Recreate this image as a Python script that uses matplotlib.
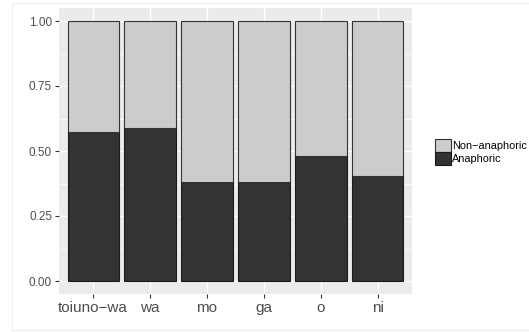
import matplotlib
matplotlib.use("Agg")
import matplotlib.pyplot as plt
from matplotlib.patches import Patch
from matplotlib.lines import Line2D
import numpy as np

plt.rcParams["font.family"] = ["Liberation Sans", "DejaVu Sans"]

categories = ["toiuno\u2212wa", "wa", "mo", "ga", "o", "ni"]
anaphoric = [0.572, 0.590, 0.381, 0.380, 0.479, 0.402]
y_ticks = [0.0, 0.25, 0.5, 0.75, 1.0]
y_tick_labels = ["0.00", "0.25", "0.50", "0.75", "1.00"]
legend_labels = ["Non\u2212anaphoric", "Anaphoric"]

W, H = 529, 332
fig = plt.figure(figsize=(W / 100, H / 100), dpi=100)
fig.patch.set_facecolor("white")
# light frame (top, left, bottom; open to the right edge)
fx = [W / W, 12 / W, 12 / W, W / W]
fy = [1 - 2.5 / H, 1 - 2.5 / H, 1 - 330 / H, 1 - 330 / H]
fig.add_artist(Line2D(fx, fy, transform=fig.transFigure, color="#EEEEEE", linewidth=0.8))

ax = fig.add_axes([59 / W, 1 - 294 / H, (412 - 59) / W, (294 - 8) / H])
ax.set_facecolor("#EBEBEB")
x = np.arange(len(categories))
non = [1 - a for a in anaphoric]
ax.bar(x, anaphoric, width=0.9, color="#333333", edgecolor="#1a1a1a", linewidth=0.8, zorder=3)
ax.bar(x, non, bottom=anaphoric, width=0.9, color="#CCCCCC", edgecolor="#333333", linewidth=0.8, zorder=3)

ax.set_xlim(-0.6, len(categories) - 0.4)
ax.set_ylim(-0.05, 1.05)
ax.set_yticks(y_ticks)
ax.set_yticklabels(y_tick_labels)
ax.set_yticks([0.125, 0.375, 0.625, 0.875], minor=True)
ax.set_xticks(x)
ax.set_xticklabels(categories)
ax.grid(which="major", color="white", linewidth=1.0, zorder=0)
ax.grid(which="minor", axis="y", color="white", linewidth=0.5, zorder=0)
ax.tick_params(axis="y", which="major", length=3, color="#333333", labelsize=8.5, labelcolor="#4D4D4D", pad=2)
ax.tick_params(axis="x", which="major", length=3, color="#333333", labelsize=11, labelcolor="#4D4D4D", pad=2)
ax.tick_params(which="minor", length=0)
for s in ax.spines.values():
    s.set_visible(False)
ax.set_axisbelow(True)

handles = [Patch(facecolor="#CCCCCC", edgecolor="#333333", linewidth=0.8),
           Patch(facecolor="#333333", edgecolor="#1a1a1a", linewidth=0.8)]
leg = fig.legend(handles, legend_labels, loc="upper left",
                 bbox_to_anchor=(431 / W, 1 - 135 / H), frameon=False,
                 fontsize=7.8, handlelength=1.4, handleheight=1.4,
                 handletextpad=0.15, labelspacing=0.05, borderaxespad=0)

fig.savefig("out.png", dpi=100)
